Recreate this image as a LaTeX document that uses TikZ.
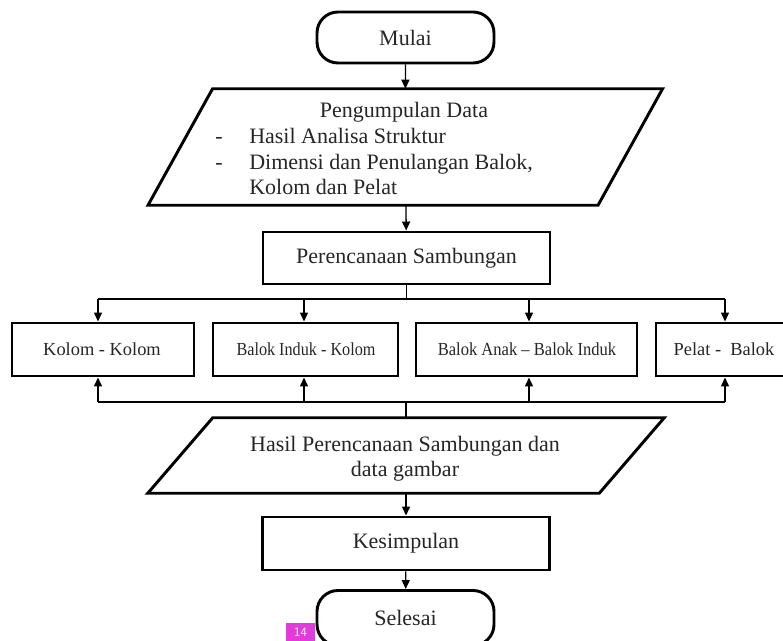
\documentclass[tikz,border=0pt]{standalone}
\usepackage{fontspec}
\usepackage{graphicx}
\setmainfont{Liberation Serif}
\usetikzlibrary{arrows.meta}
\definecolor{txt}{HTML}{262626}
\definecolor{pink}{HTML}{E03CDC}
\def\u{0.75pt}
\tikzset{
  x=0.75pt, y=-0.75pt,
  bx/.style={draw=black, line width=2.2pt, inner sep=0pt, text=txt, font=\fontsize{16.5}{20}\selectfont},
  term/.style={bx, rounded corners=21*\u, minimum width=177*\u},
  rbox/.style={bx, minimum height=53*\u},
  rtext/.style={inner sep=0pt, text=txt, anchor=base, font=\fontsize{13.8}{16}\selectfont},
  frame/.style={inner sep=0pt},
  para/.style={draw=black, line width=2.2pt, line join=miter},
  tx/.style={inner sep=0pt, text=txt, font=\fontsize{16.5}{20}\selectfont},
  conn/.style={draw=black, line width=1pt},
  arr/.style={conn, -{Triangle[length=9*\u, width=8*\u]}},
}
\begin{document}
\begin{tikzpicture}
\useasboundingbox (0,0) rectangle (783,641);
\fill[white] (0,0) rectangle (783,641);

% start
\node[term, minimum height=51*\u] (mulai) at (405.5,37.5) {Mulai};

% input data
\node[frame, minimum width=449.5*\u, minimum height=116*\u] (p1) at (405.3,147) {};
\draw[para] ([xshift=32.3*\u]p1.north west) -- ([xshift=32.3*\u]p1.north east)
  -- ([xshift=-32.3*\u]p1.south east) -- ([xshift=-32.3*\u]p1.south west) -- cycle;
\node[tx, anchor=base] (p1t) at (404,118) {Pengumpulan Data};
\node[tx, anchor=base] (d1) at (219,144) {-};
\node[tx, anchor=base west] (l1) at (249,144) {Hasil Analisa Struktur};
\node[tx, anchor=base] (d2) at (219,169.5) {-};
\node[tx, anchor=base west] (l2) at (249,169.5) {Dimensi dan Penulangan Balok,};
\node[tx, anchor=base west] (l3) at (249,195) {Kolom dan Pelat};

% process
\node[bx, minimum width=287*\u, minimum height=52*\u] (per) at (406.5,258) {Perencanaan Sambungan};

% branches
\node[rbox, minimum width=182*\u] (k1) at (103,349.5) {};
\node[rbox, minimum width=185*\u] (k2) at (305.5,349.5) {};
\node[rbox, minimum width=221*\u] (k3) at (526.5,349.5) {};
\node[rbox, minimum width=130*\u] (k4) at (721,349.5) {};
\node[rtext] (k1t) at (102,356) {Kolom - Kolom};
\node[rtext] (k2t) at (306,356) {\scalebox{0.88}[1]{Balok Induk - Kolom}};
\node[rtext] (k3t) at (527,356) {\scalebox{0.9}[1]{Balok Anak -- Balok Induk}};
\node[rtext] (k4t) at (724,356) {Pelat -\ \ Balok};

\coordinate (top) at (406.5,299);
\coordinate (bot) at (406,402);
\coordinate (t1) at (98,299);  \coordinate (t2) at (304,299);
\coordinate (t3) at (529,299); \coordinate (t4) at (725,299);
\coordinate (b1) at (98,402);  \coordinate (b2) at (304,402);
\coordinate (b3) at (529,402); \coordinate (b4) at (725,402);

% output
\node[frame, minimum width=451*\u, minimum height=75*\u] (p2) at (406,455.5) {};
\draw[para] ([xshift=32.5*\u]p2.north west) -- ([xshift=32.5*\u]p2.north east)
  -- ([xshift=-32.5*\u]p2.south east) -- ([xshift=-32.5*\u]p2.south west) -- cycle;
\node[tx, anchor=base] (p2a) at (405,452) {Hasil Perencanaan Sambungan dan};
\node[tx, anchor=base] (p2b) at (405,477) {data gambar};

\node[bx, minimum width=287*\u, minimum height=53*\u] (kes) at (406,543.5) {Kesimpulan};
\node[term, minimum height=55*\u] (sel) at (405.5,618) {Selesai};

% connectors
\draw[arr] (mulai) -- (p1);
\draw[arr] (p1) -- (per);
\draw[conn] (per) -- (top);
\draw[conn] (t1) -- (t4);
\draw[arr] (t1) -- (t1 |- k1.north);
\draw[arr] (t2) -- (t2 |- k2.north);
\draw[arr] (t3) -- (t3 |- k3.north);
\draw[arr] (t4) -- (t4 |- k4.north);
\draw[conn] (b1) -- (b4);
\draw[arr] (b1) -- (b1 |- k1.south);
\draw[arr] (b2) -- (b2 |- k2.south);
\draw[arr] (b3) -- (b3 |- k3.south);
\draw[arr] (b4) -- (b4 |- k4.south);
\draw[conn] (bot) -- (bot |- p2.north);
\draw[arr] (p2) -- (kes);
\draw[arr] (kes) -- (sel);

% page tag
\node[fill=pink, inner sep=0pt, minimum width=29*\u, minimum height=20*\u] (tag) at (300.5,633) {};
\node[text=white, inner sep=0pt, font=\fontsize{9.5}{10}\sffamily] (tagt) at (300.5,632.5) {14};
\end{tikzpicture}
\end{document}
